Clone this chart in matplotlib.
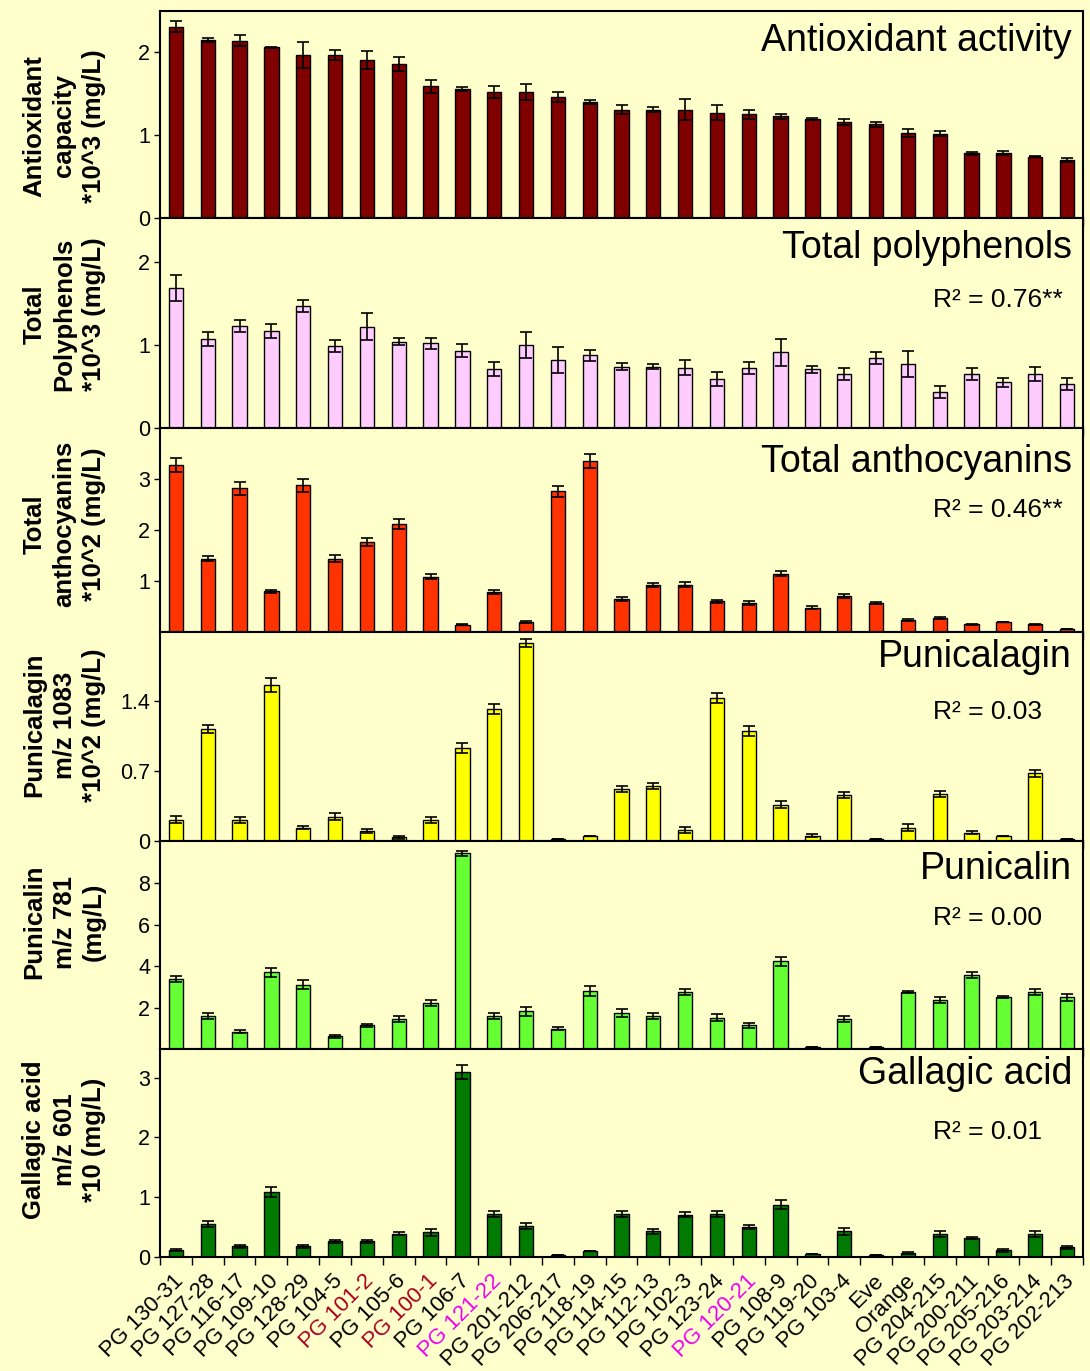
import matplotlib.pyplot as plt
import matplotlib.transforms as mtransforms
import numpy as np

plt.rcParams['font.family'] = ['Liberation Sans', 'DejaVu Sans']

# ----------------------------- data ------------------------------------------
categories = [
    'PG 130-31', 'PG 127-28', 'PG 116-17', 'PG 109-10', 'PG 128-29', 'PG 104-5',
    'PG 101-2', 'PG 105-6', 'PG 100-1', 'PG 106-7', 'PG 121-22', 'PG 201-212',
    'PG 206-217', 'PG 118-19', 'PG 114-15', 'PG 112-13', 'PG 102-3', 'PG 123-24',
    'PG 120-21', 'PG 108-9', 'PG 119-20', 'PG 103-4', 'Eve', 'Orange',
    'PG 204-215', 'PG 200-211', 'PG 205-216', 'PG 203-214', 'PG 202-213',
]
red_labels = ['PG 101-2', 'PG 100-1']
magenta_labels = ['PG 121-22', 'PG 120-21']

antiox = [2.31, 2.15, 2.14, 2.06, 1.97, 1.97, 1.91, 1.86, 1.59, 1.56, 1.52, 1.52,
          1.46, 1.40, 1.31, 1.31, 1.31, 1.27, 1.25, 1.23, 1.20, 1.16, 1.13, 1.03,
          1.02, 0.78, 0.78, 0.74, 0.70]
antiox_err = [0.065, 0.022, 0.065, 0.010, 0.155, 0.065, 0.107, 0.090, 0.077, 0.026,
              0.070, 0.097, 0.062, 0.020, 0.054, 0.032, 0.123, 0.089, 0.060, 0.032,
              0.012, 0.038, 0.034, 0.050, 0.030, 0.018, 0.024, 0.005, 0.022]

polyph = [1.69, 1.07, 1.23, 1.17, 1.47, 0.99, 1.22, 1.04, 1.02, 0.93, 0.71, 1.00,
          0.82, 0.875, 0.74, 0.74, 0.725, 0.59, 0.725, 0.91, 0.705, 0.65, 0.84, 0.77,
          0.43, 0.65, 0.55, 0.65, 0.53]
polyph_err = [0.157, 0.083, 0.070, 0.080, 0.070, 0.070, 0.160, 0.042, 0.067, 0.080,
              0.080, 0.157, 0.157, 0.070, 0.040, 0.032, 0.090, 0.085, 0.073, 0.160,
              0.040, 0.070, 0.070, 0.160, 0.070, 0.070, 0.056, 0.087, 0.067]

anthoc = [3.28, 1.44, 2.82, 0.80, 2.88, 1.44, 1.76, 2.12, 1.08, 0.14, 0.78, 0.20,
          2.76, 3.36, 0.65, 0.93, 0.93, 0.60, 0.57, 1.14, 0.48, 0.71, 0.575, 0.235,
          0.275, 0.15, 0.20, 0.15, 0.06]
anthoc_err = [0.14, 0.045, 0.124, 0.03, 0.127, 0.062, 0.078, 0.098, 0.05, 0.01,
              0.04, 0.02, 0.105, 0.14, 0.04, 0.04, 0.05, 0.036, 0.046, 0.05,
              0.023, 0.04, 0.02, 0.023, 0.02, 0.005, 0.005, 0.005, 0.005]

punicalagin = [0.213, 1.12, 0.213, 1.56, 0.133, 0.243, 0.10, 0.037, 0.207, 0.93,
               1.32, 1.98, 0.02, 0.05, 0.52, 0.553, 0.113, 1.43, 1.10, 0.363,
               0.053, 0.463, 0.023, 0.133, 0.473, 0.083, 0.053, 0.677, 0.023]
punicalagin_err = [0.033, 0.043, 0.030, 0.070, 0.015, 0.033, 0.017, 0.012, 0.030,
                   0.048, 0.047, 0.042, 0.0, 0.0, 0.032, 0.030, 0.032, 0.047, 0.047,
                   0.033, 0.013, 0.032, 0.0, 0.035, 0.032, 0.017, 0.0, 0.033, 0.0]

punicalin = [3.38, 1.61, 0.84, 3.70, 3.11, 0.61, 1.14, 1.45, 2.21, 9.45, 1.61, 1.82,
             0.98, 2.80, 1.74, 1.61, 2.74, 1.51, 1.14, 4.25, 0.08, 1.45, 0.08, 2.75,
             2.37, 3.56, 2.51, 2.75, 2.50]
punicalin_err = [0.145, 0.15, 0.065, 0.225, 0.23, 0.065, 0.056, 0.137, 0.145, 0.12,
                 0.145, 0.225, 0.065, 0.24, 0.17, 0.153, 0.153, 0.16, 0.137, 0.217,
                 0.0, 0.16, 0.0, 0.05, 0.145, 0.137, 0.056, 0.145, 0.16]

gallagic = [0.12, 0.55, 0.18, 1.08, 0.18, 0.26, 0.26, 0.39, 0.415, 3.10, 0.72, 0.52,
            0.03, 0.10, 0.72, 0.43, 0.71, 0.72, 0.50, 0.875, 0.05, 0.43, 0.04, 0.07,
            0.39, 0.32, 0.11, 0.39, 0.16]
gallagic_err = [0.017, 0.05, 0.028, 0.084, 0.025, 0.025, 0.028, 0.028, 0.056, 0.12,
                0.048, 0.048, 0.0, 0.0, 0.048, 0.045, 0.048, 0.048, 0.03, 0.08,
                0.0, 0.056, 0.0, 0.02, 0.053, 0.02, 0.025, 0.05, 0.02]

titles = ['Antioxidant activity', 'Total polyphenols', 'Total anthocyanins',
          'Punicalagin', 'Punicalin', 'Gallagic acid']
r2_texts = [None, 'R² = 0.76**', 'R² = 0.46**', 'R² = 0.03', 'R² = 0.00', 'R² = 0.01']
ylabels = ['Antioxidant\ncapacity\n*10^3 (mg/L)',
           'Total\nPolyphenols\n*10^3 (mg/L)',
           'Total\nanthocyanins\n*10^2 (mg/L)',
           'Punicalagin\nm/z 1083\n*10^2 (mg/L)',
           'Punicalin\nm/z 781\n(mg/L)',
           'Gallagic acid\nm/z 601\n*10 (mg/L)']
yticks = [[0, 1, 2], [0, 1, 2], [1, 2, 3], [0, 0.7, 1.4], [2, 4, 6, 8], [0, 1, 2, 3]]

# ----------------------------- styling ---------------------------------------
bg = '#FFFFCC'
bar_colors = ['#800000', '#FFCCFF', '#FF3300', '#FFFF00', '#66FF33', '#007A00']
ymaxs = [2.5, 2.53, 4.0, 2.09, 10.05, 3.48]
# panel edges in pixels from the top of the figure
edges = [11, 218, 428, 632, 841, 1049, 1257]
title_y = [0.855, 0.855, 0.833, 0.88, 0.865, 0.88]
r2_y = [None, 0.61, 0.60, 0.617, 0.63, 0.60]
ylabel_y = [0.445, 0.54, 0.53, 0.555, 0.61, 0.565]

W, H = 1090, 1371
fig = plt.figure(figsize=(W / 100, H / 100), dpi=100, facecolor=bg)

series = [(antiox, antiox_err), (polyph, polyph_err), (anthoc, anthoc_err),
          (punicalagin, punicalagin_err), (punicalin, punicalin_err),
          (gallagic, gallagic_err)]

n = len(categories)
x = np.arange(n)

for i, (vals, errs) in enumerate(series):
    top, bot = edges[i], edges[i + 1]
    ax = fig.add_axes([160 / W, 1 - bot / H, 923 / W, (bot - top) / H])
    ax.set_facecolor(bg)

    ax.bar(x, vals, width=0.45, color=bar_colors[i], edgecolor='black',
           linewidth=1.0, yerr=errs, capsize=4,
           error_kw=dict(elinewidth=1.2, capthick=1.2, ecolor='black'),
           zorder=2)

    ax.set_xlim(-0.5, n - 0.5)
    ax.set_ylim(0, ymaxs[i])
    ax.set_yticks(yticks[i])
    ax.set_yticklabels([f"{v:g}" for v in yticks[i]])
    ax.tick_params(axis='y', direction='out', length=4, width=1, labelsize=15.5, pad=3)

    ax.set_xticks(x)
    ax.set_xticks(np.arange(-0.5, n, 1), minor=True)
    ax.tick_params(axis='x', which='minor', direction='out', length=6, width=1)
    ax.tick_params(axis='x', which='major', length=0)

    for sp in ax.spines.values():
        sp.set_linewidth(1.5)

    if i == len(series) - 1:
        ax.set_xticklabels(categories, rotation=45, ha='right', va='center',
                           rotation_mode='anchor', fontsize=16)
        ax.tick_params(axis='x', which='major', pad=15)
        shift = mtransforms.ScaledTranslation(4 / 100, 0, fig.dpi_scale_trans)
        for lbl, name in zip(ax.get_xticklabels(), categories):
            lbl.set_transform(lbl.get_transform() + shift)
            if name in red_labels:
                lbl.set_color('#A8001E')
            elif name in magenta_labels:
                lbl.set_color('#EE00EE')
    else:
        ax.set_xticklabels([])

    ax.text(0.988, title_y[i], titles[i], ha='right', va='center', fontsize=27,
            transform=ax.transAxes)
    if r2_texts[i]:
        ax.text(0.8375, r2_y[i], r2_texts[i], ha='left', va='center', fontsize=19,
                transform=ax.transAxes)

    ax.text(-0.104, ylabel_y[i], ylabels[i], rotation=90, ha='center', va='center',
            multialignment='center', fontsize=18.5, fontweight='bold',
            linespacing=1.3, transform=ax.transAxes)

fig.savefig('out.png', dpi=100, facecolor=bg)
